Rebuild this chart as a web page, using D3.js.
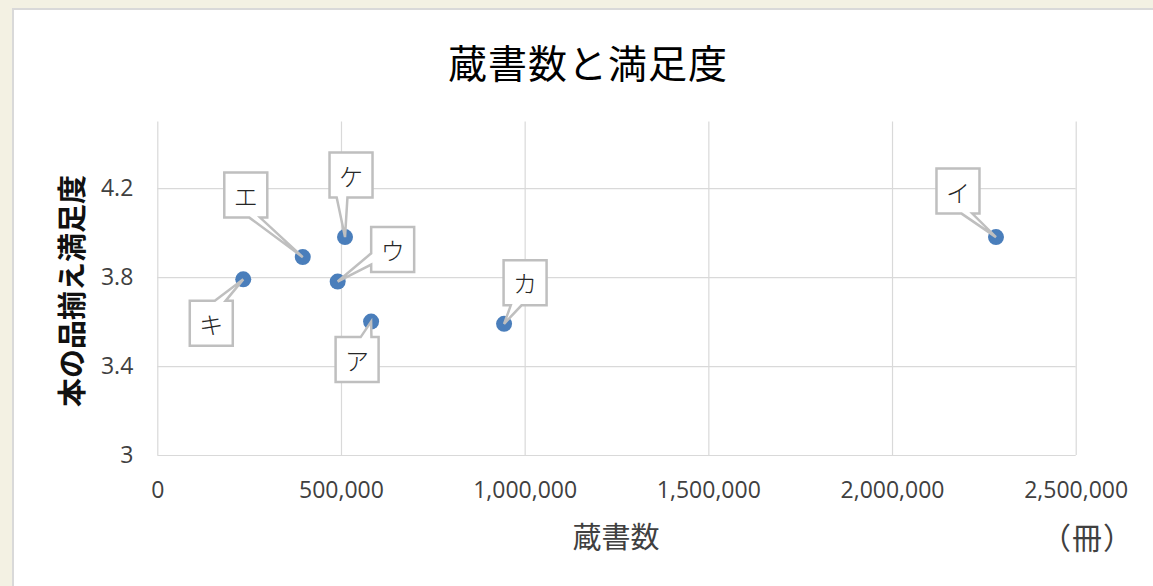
<!DOCTYPE html>
<html>
<head>
<meta charset="utf-8">
<script src="https://cdn.jsdelivr.net/npm/d3@7/dist/d3.min.js"></script>
<style>
  html, body { margin: 0; padding: 0; background: #f3f1e3; }
  svg { display: block; }
</style>
</head>
<body>
<script>
// ---- data ----
const names = ["ア", "イ", "ウ", "エ", "カ", "キ", "ケ"];
const books = [582000, 2283000, 491000, 396000, 944000, 234000, 511000];
const satisfaction = [3.6, 3.98, 3.78, 3.89, 3.59, 3.79, 3.98];

const xTicks = [0, 500000, 1000000, 1500000, 2000000, 2500000];
const yTicks = [3, 3.4, 3.8, 4.2];
const yTickLabels = ["3", "3.4", "3.8", "4.2"];

const titleText = "蔵書数と満足度";
const xTitle = "蔵書数";
const xUnit = "（冊）";
const yTitle = "本の品揃え満足度";

// label callout offsets (box centre relative to point, px) - layout only
const labelDx = [-14, -38, 55, -57, 21, -32, 6];
const labelDy = [38, -46, -32, -62, -41, 44, -62];

// ---- layout ----
const W = 1153, H = 586;
const plot = { left: 157.3, right: 1075.7, top: 121.5, bottom: 455 };

const svg = d3.select("body").append("svg").attr("width", W).attr("height", H);

svg.append("rect").attr("x", 0).attr("y", 0).attr("width", W).attr("height", H).attr("fill", "#f3f1e3");
svg.append("rect").attr("x", 13).attr("y", 9).attr("width", W + 50).attr("height", H + 50)
  .attr("fill", "#ffffff").attr("stroke", "#d9d9d9").attr("stroke-width", 2);

const x = d3.scaleLinear().domain([0, 2500000]).range([plot.left, plot.right]);
const y = d3.scaleLinear().domain([3, 4.5]).range([plot.bottom, plot.top]);

// x axis with vertical gridlines
const xAxis = d3.axisBottom(x).tickValues(xTicks).tickFormat(d3.format(","))
  .tickSizeInner(-(plot.bottom - plot.top)).tickSizeOuter(0).tickPadding(27);
const gx = svg.append("g").attr("transform", `translate(0,${plot.bottom})`).call(xAxis);
gx.select(".domain").remove();
gx.selectAll(".tick line").attr("stroke", "#d9d9d9").attr("stroke-width", 1.2);
gx.selectAll(".tick text").attr("fill", "#404040")
  .style("font-family", "'Open Sans', 'Liberation Sans', sans-serif").style("font-size", "23px");

// y axis with horizontal gridlines
const yAxis = d3.axisLeft(y).tickValues(yTicks).tickFormat((d, i) => yTickLabels[i])
  .tickSizeInner(-(plot.right - plot.left)).tickSizeOuter(0).tickPadding(24);
const gy = svg.append("g").attr("transform", `translate(${plot.left},0)`).call(yAxis);
gy.select(".domain").remove();
gy.selectAll(".tick line").attr("stroke", "#d9d9d9").attr("stroke-width", 1.2);
gy.selectAll(".tick text").attr("fill", "#404040")
  .style("font-family", "'Open Sans', 'Liberation Sans', sans-serif").style("font-size", "23px");

// titles
const cjk = "'Noto Sans CJK JP', 'Noto Sans', sans-serif";
svg.append("text").attr("x", 588).attr("y", 61).attr("text-anchor", "middle")
  .attr("dominant-baseline", "central").attr("fill", "#000")
  .style("font-family", cjk).style("font-size", "39px").style("letter-spacing", "1px").text(titleText);

svg.append("text").attr("transform", "translate(70,291) rotate(-90)").attr("text-anchor", "middle")
  .attr("dominant-baseline", "central").attr("fill", "#111")
  .style("font-family", cjk).style("font-size", "29px").style("font-weight", "700").text(yTitle);

svg.append("text").attr("x", 616).attr("y", 535).attr("text-anchor", "middle")
  .attr("dominant-baseline", "central").attr("fill", "#404040")
  .style("font-family", cjk).style("font-size", "29px").text(xTitle);

svg.append("text").attr("x", 1088).attr("y", 536).attr("text-anchor", "middle")
  .attr("dominant-baseline", "central").attr("fill", "#404040")
  .style("font-family", cjk).style("font-size", "30px").style("font-feature-settings", "'palt'")
  .style("letter-spacing", "2px")
  .text(xUnit);

// points
const idx = d3.range(names.length);
svg.append("g").selectAll("circle").data(idx).join("circle")
  .attr("cx", i => x(books[i])).attr("cy", i => y(satisfaction[i])).attr("r", 8)
  .attr("fill", "#4a7ebb");

// callouts (Excel wedgeRectCallout style)
const bw = 43, bh = 45;
function calloutPath(px, py, cx, cy) {
  const l = cx - bw / 2, r = cx + bw / 2, t = cy - bh / 2, b = cy + bh / 2;
  const dx = px - cx, dy = py - cy;
  const dz = Math.abs(dy) - Math.abs(dx * bh / bw);
  const x1 = l + bw * (dx > 0 ? 7 : 2) / 12, x2 = l + bw * (dx > 0 ? 10 : 5) / 12;
  const y1 = t + bh * (dy > 0 ? 7 : 2) / 12, y2 = t + bh * (dy > 0 ? 10 : 5) / 12;
  const p = d3.path();
  p.moveTo(l, t);
  if (dz > 0 && dy < 0) { p.lineTo(x1, t); p.lineTo(px, py); p.lineTo(x2, t); }
  p.lineTo(r, t);
  if (dz <= 0 && dx > 0) { p.lineTo(r, y1); p.lineTo(px, py); p.lineTo(r, y2); }
  p.lineTo(r, b);
  if (dz > 0 && dy > 0) { p.lineTo(x2, b); p.lineTo(px, py); p.lineTo(x1, b); }
  p.lineTo(l, b);
  if (dz <= 0 && dx < 0) { p.lineTo(l, y2); p.lineTo(px, py); p.lineTo(l, y1); }
  p.closePath();
  return p.toString();
}

const lg = svg.append("g").selectAll("g").data(idx).join("g");
lg.append("path")
  .attr("d", i => {
    const px = x(books[i]), py = y(satisfaction[i]);
    return calloutPath(px, py, px + labelDx[i], py + labelDy[i]);
  })
  .attr("fill", "#ffffff").attr("stroke", "#bfbfbf").attr("stroke-width", 2.5)
  .attr("stroke-linejoin", "miter");
lg.append("text")
  .attr("x", i => x(books[i]) + labelDx[i])
  .attr("y", i => y(satisfaction[i]) + labelDy[i])
  .attr("text-anchor", "middle").attr("dominant-baseline", "central")
  .attr("fill", "#262626")
  .style("font-family", cjk).style("font-size", "24px").style("font-weight", "300")
  .text(i => names[i]);
</script>
</body>
</html>
